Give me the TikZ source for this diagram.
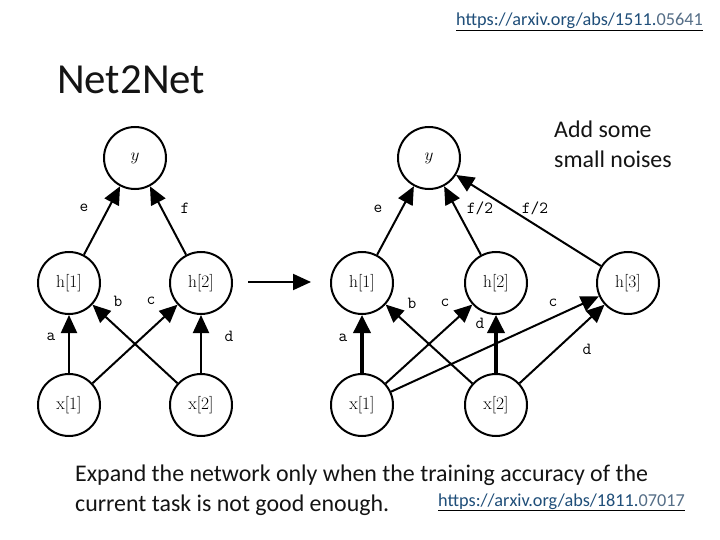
\documentclass[tikz,border=0pt]{standalone}
\usepackage{fontspec}
\usetikzlibrary{arrows.meta}
\newfontfamily\calib{Carlito}
\definecolor{linkdark}{RGB}{31,78,121}
\definecolor{linklight}{RGB}{85,110,135}
\definecolor{txt}{RGB}{20,20,20}
\begin{document}
\begin{tikzpicture}[x=1bp,y=-1bp,
  neuron/.style={circle,draw,line width=2bp,minimum size=62bp,inner sep=0pt,font=\fontsize{17.5}{19}\selectfont},
  conn/.style={line width=2bp,-{Triangle[length=18bp,width=16bp]}},
  thickconn/.style={line width=3.6bp,-{Triangle[length=18bp,width=17bp]}},
  elabel/.style={font=\ttfamily\fontsize{17}{18}\selectfont},
  slidetext/.style={font=\calib\fontsize{24}{30}\selectfont,text=txt,anchor=base west,inner sep=0pt},
  urltext/.style={font=\calib\fontsize{18.3}{20}\selectfont,anchor=base west,inner sep=0pt}]
\useasboundingbox (0,0) rectangle (720,540);
\fill[white] (0,0) rectangle (720,540);

% titles and texts
\node[urltext] (url1) at (456,26) {\underline{\textcolor{linkdark}{https://arxiv.org/abs/1511.}\textcolor{linklight}{05641}}};
\node[slidetext,font=\calib\fontsize{43}{46}\selectfont] (title) at (57,94) {Net2Net};
\node[slidetext] (add1) at (554,138) {Add some};
\node[slidetext] (add2) at (554,168) {small noises};
\node[slidetext] (exp1) at (75,481) {Expand the network only when the training accuracy of the};
\node[slidetext] (exp2) at (75,511) {current task is not good enough.};
\node[urltext] (url2) at (438,506) {\underline{\textcolor{linkdark}{https://arxiv.org/abs/1811.}\textcolor{linklight}{07017}}};

% left network
\node[neuron] (Ly) at (135,158) {$y$};
\node[neuron] (Lh1) at (69,283) {h[1]};
\node[neuron] (Lh2) at (201,283) {h[2]};
\node[neuron] (Lx1) at (69,405) {x[1]};
\node[neuron] (Lx2) at (201,405) {x[2]};
\draw[conn] (Lh1) -- (Ly);
\draw[conn] (Lh2) -- (Ly);
\draw[conn] (Lx1) -- (Lh1);
\draw[conn] (Lx2) -- (Lh2);
\draw[conn] (Lx2) -- (Lh1);
\draw[conn] (Lx1) -- (Lh2);
\node[elabel] (Le) at (84,208) {e};
\node[elabel] (Lf) at (185,208) {f};
\node[elabel] (Lb) at (118,301) {b};
\node[elabel] (Lc) at (151,301) {c};
\node[elabel] (La) at (51,337) {a};
\node[elabel] (Ld) at (229,336) {d};

% transition arrow
\coordinate (arrS) at (248,282);
\coordinate (arrE) at (311,282);
\draw[conn] (arrS) -- (arrE);

% right network
\node[neuron] (Ry) at (429,158) {$y$};
\node[neuron] (Rh1) at (362,283) {h[1]};
\node[neuron] (Rh2) at (496,283) {h[2]};
\node[neuron] (Rh3) at (628,283) {h[3]};
\node[neuron] (Rx1) at (362,405) {x[1]};
\node[neuron] (Rx2) at (496,405) {x[2]};
\draw[conn] (Rh1) -- (Ry);
\draw[conn] (Rh2) -- (Ry);
\draw[conn] (Rh3) -- (Ry);
\draw[thickconn] (Rx1) -- (Rh1);
\draw[thickconn] (Rx2) -- (Rh2);
\draw[conn] (Rx2) -- (Rh1);
\draw[conn] (Rx1) -- (Rh2);
\draw[conn] (Rx1) -- (Rh3);
\draw[conn] (Rx2) -- (Rh3);
\node[elabel] (Re) at (378,209) {e};
\node[elabel] (Rf1) at (480,208) {f/2};
\node[elabel] (Rf2) at (535,208) {f/2};
\node[elabel] (Rb) at (412,303) {b};
\node[elabel] (Rc1) at (445,303) {c};
\node[elabel] (Rc2) at (553,303) {c};
\node[elabel] (Rd1) at (480,323) {d};
\node[elabel] (Ra) at (343,338) {a};
\node[elabel] (Rd2) at (587,349) {d};
\end{tikzpicture}
\end{document}
